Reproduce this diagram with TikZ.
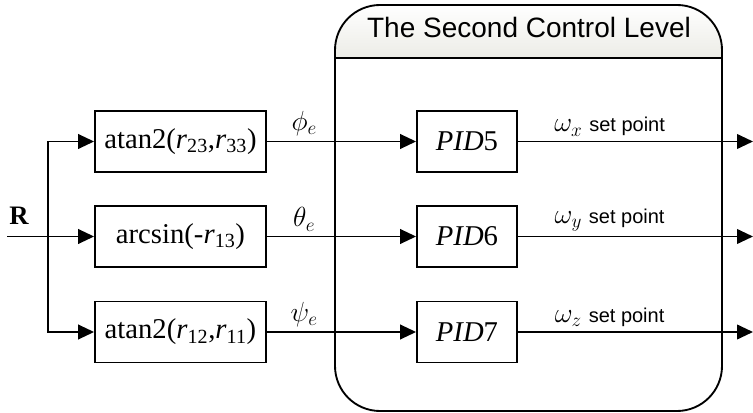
\documentclass[tikz,border=0pt]{standalone}
\usepackage{fontspec}
\setmainfont{Liberation Serif}
\setsansfont{Liberation Sans}
\usepackage{tikz}
\usetikzlibrary{arrows.meta}
\definecolor{headgray}{RGB}{236,236,230}
\newcommand{\setpt}{{\sffamily\fontsize{15}{18}\selectfont set point}}
\newcommand{\rsub}[1]{\textit{r}\textsubscript{#1}}

\tikzset{
  blk/.style={draw, line width=1.4pt, minimum height=45.75pt, inner sep=0pt,
    font=\fontsize{21.5}{25}\selectfont},
  sig/.style={-{Triangle[length=12pt,width=11pt]}, line width=1.4pt},
  lbl/.style={above, font=\fontsize{20.5}{24}\selectfont},
}

\begin{document}
\begin{tikzpicture}[x=0.75pt,y=-0.75pt,line width=1.4pt]
        \useasboundingbox (0,0) rectangle (753,413);
        \def\ya{141.5}
        \def\yb{236.5}
        \def\yc{332}
        %Frame of the second level
        \begin{scope}
          \clip[rounded corners=33.75pt] (335,5) rectangle (722,411);
          \shade[top color=white, bottom color=headgray] (335,5) rectangle (722,58);
        \end{scope}
        \draw[rounded corners=33.75pt] (335,5) rectangle (722,411);
        \draw (335,58) -- (722,58);
        \node[anchor=base, font=\sffamily\fontsize{21}{25}\selectfont] (title) at (529,38) {The Second Control Level};
        %Blocks
        \node[blk, minimum width=128.25pt] (f1) at (180.5,\ya) {atan2(\rsub{23},\rsub{33})};
        \node[blk, minimum width=128.25pt] (f2) at (180.5,\yb) {arcsin(-\rsub{13})};
        \node[blk, minimum width=128.25pt] (f3) at (180.5,\yc) {atan2(\rsub{12},\rsub{11})};
        \node[blk, minimum width=75pt] (p5) at (467,\ya) {\textit{PID}5};
        \node[blk, minimum width=75pt] (p6) at (467,\yb) {\textit{PID}6};
        \node[blk, minimum width=75pt] (p7) at (467,\yc) {\textit{PID}7};
        %Input
        \node[anchor=base, font=\bfseries\fontsize{20}{24}\selectfont] (rlab) at (19,225) {R};
        \coordinate (in) at (7,\yb);
        \coordinate (split) at (48,\yb);
        \draw (in) -- (split);
        \draw[sig] (split) |- (f1);
        \draw[sig] (split) -- (f2);
        \draw[sig] (split) |- (f3);
        %Angle errors
        \draw[sig] (f1) -- node[lbl, pos=0.25] (phi) {$\phi_e$} (p5);
        \draw[sig] (f2) -- node[lbl, pos=0.25] (theta) {$\theta_e$} (p6);
        \draw[sig] (f3) -- node[lbl, pos=0.25] (psi) {$\psi_e$} (p7);
        %Outputs
        \coordinate (o5) at (753,\ya);
        \coordinate (o6) at (753,\yb);
        \coordinate (o7) at (753,\yc);
        \draw[sig] (p5) -- node[lbl, pos=0.39] (wx) {$\omega_x$ \setpt} (o5);
        \draw[sig] (p6) -- node[lbl, pos=0.39] (wy) {$\omega_y$ \setpt} (o6);
        \draw[sig] (p7) -- node[lbl, pos=0.39] (wz) {$\omega_z$ \setpt} (o7);
\end{tikzpicture}
\end{document}
